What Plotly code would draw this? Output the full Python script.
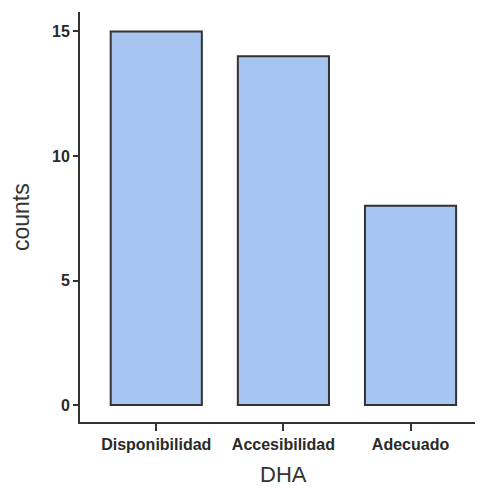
import plotly.graph_objects as go

categories = ["Disponibilidad", "Accesibilidad", "Adecuado"]
counts = [15, 14, 8]
y_ticks = [0, 5, 10, 15]

W, H = 475, 481
ML, MR, MT, MB = 72, 0, 4, 67
PW, PH = W - ML - MR, H - MT - MB

fig = go.Figure(go.Bar(
    x=categories, y=counts, width=0.717,
    marker=dict(color="#a6c5f1", line=dict(color="#333333", width=2)),
))
fig.update_layout(
    width=W, height=H,
    margin=dict(l=ML, r=MR, t=MT, b=MB),
    plot_bgcolor="white", paper_bgcolor="white",
    font=dict(family="Liberation Sans, Arial, sans-serif", color="#333333"),
    showlegend=False,
)
tickfont = dict(size=16, color="#2a2a2a", family="Liberation Sans, Arial, sans-serif", weight="bold")
fig.update_xaxes(
    range=[-0.6, 2.57], showline=True, linecolor="#333333", linewidth=2,
    ticks="outside", ticklen=7, tickwidth=2, tickcolor="#333333",
    tickfont=tickfont, showgrid=False, zeroline=False,
)
fig.update_yaxes(
    range=[-0.68, 15.78], tickvals=y_ticks, showline=True, linecolor="#333333", linewidth=2,
    ticks="outside", ticklen=5, tickwidth=2, tickcolor="#333333",
    tickfont=tickfont, showgrid=False, zeroline=False,
)
fig.add_annotation(text="counts", xref="paper", yref="paper",
                   x=-(ML - 13) / PW, y=0.5, textangle=-90, showarrow=False,
                   xanchor="center", yanchor="middle",
                   font=dict(size=23, color="#333333"))
fig.add_annotation(text="DHA", xref="paper", yref="paper",
                   x=(156 + 127 - 8 - ML) / PW, y=-52 / PH, showarrow=False,
                   xanchor="center", yanchor="middle",
                   font=dict(size=22, color="#333333"))
fig.write_html("out.html")
